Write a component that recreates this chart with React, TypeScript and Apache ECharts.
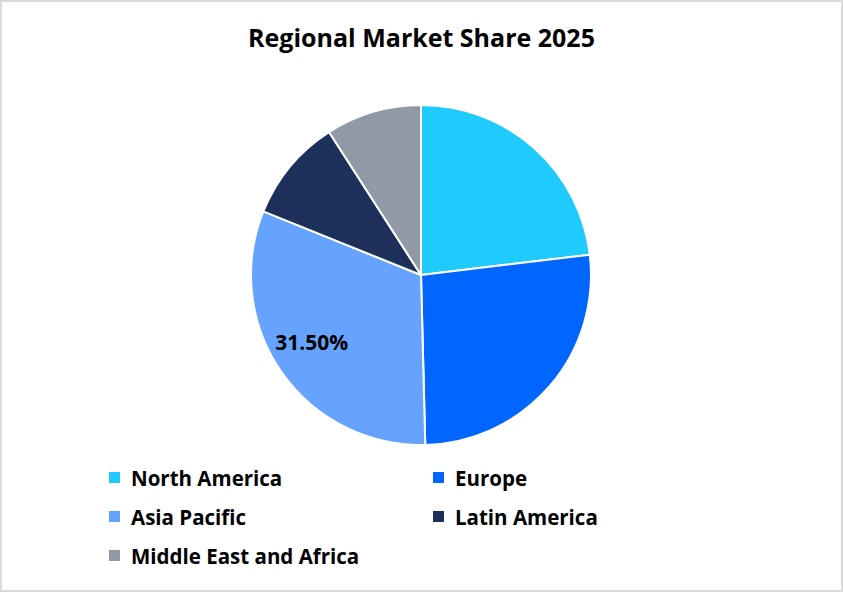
import React, { useEffect, useRef } from "react";
import * as echarts from "echarts";

const categories = ["North America", "Europe", "Asia Pacific", "Latin America", "Middle East and Africa"];
const shares = [23.1, 26.5, 31.5, 9.8, 9.1];
const colors = ["#1ECBFC", "#0066FF", "#66A3FF", "#1C3059", "#9299A6"];
const labelledCategory = "Asia Pacific";
const titleText = "Regional Market Share 2025";

const FONT = "'Open Sans', 'Noto Sans', sans-serif";

export default function App() {
  const ref = useRef<HTMLDivElement>(null);
  useEffect(() => {
    document.body.style.margin = "0";
    if (!ref.current) return;
    const chart = echarts.init(ref.current, undefined, { renderer: "svg" });
    const data = categories.map((name, i) => ({
      name,
      value: shares[i],
      itemStyle: { color: colors[i] },
    }));
    const labelData = categories.map((name, i) => ({
      name,
      value: shares[i],
      itemStyle: { color: "rgba(0,0,0,0)" },
      label: { show: name === labelledCategory },
    }));
    const legendItem = (name: string) => ({
      name,
      itemStyle: { color: colors[categories.indexOf(name)] },
    });
    const legendCommon = {
      orient: "vertical" as const,
      icon: "rect",
      itemWidth: 13,
      itemHeight: 13,
      itemGap: 18,
      padding: 0,
      selectedMode: false,
      textStyle: { fontFamily: FONT, fontSize: 20.5, fontWeight: "bold", color: "#000", lineHeight: 20, padding: [0, 0, 0, 5] },
    };
    chart.setOption({
      animation: false,
      title: {
        text: titleText,
        left: "center",
        top: 17,
        textStyle: { fontFamily: FONT, fontSize: 25, fontWeight: "bold", color: "#000" },
      },
      legend: [
        { ...legendCommon, left: 105, top: 465, data: [categories[0], categories[2], categories[4]].map(legendItem) },
        { ...legendCommon, left: 429, top: 465, data: [categories[1], categories[3]].map(legendItem) },
      ],
      series: [
        {
          type: "pie",
          center: [419, 273],
          radius: [0, 170],
          startAngle: 90,
          clockwise: true,
          silent: true,
          label: { show: false },
          labelLine: { show: false },
          itemStyle: { borderColor: "#fff", borderWidth: 2 },
          data,
        },
        {
          type: "pie",
          center: [419, 273],
          radius: [0, 250],
          startAngle: 86.6,
          clockwise: true,
          silent: true,
          labelLine: { show: false },
          label: {
            show: false,
            position: "inside",
            fontFamily: FONT,
            fontSize: 21,
            fontWeight: "bold",
            color: "#000",
            formatter: (p: any) => p.value.toFixed(2) + "%",
          },
          data: labelData,
        },
      ],
    });
    return () => chart.dispose();
  }, []);
  return (
    <div
      style={{
        width: 843,
        height: 592,
        border: "2px solid #d9d9d9",
        boxSizing: "border-box",
        background: "#fff",
      }}
    >
      <div ref={ref} style={{ width: 839, height: 588 }} />
    </div>
  );
}
